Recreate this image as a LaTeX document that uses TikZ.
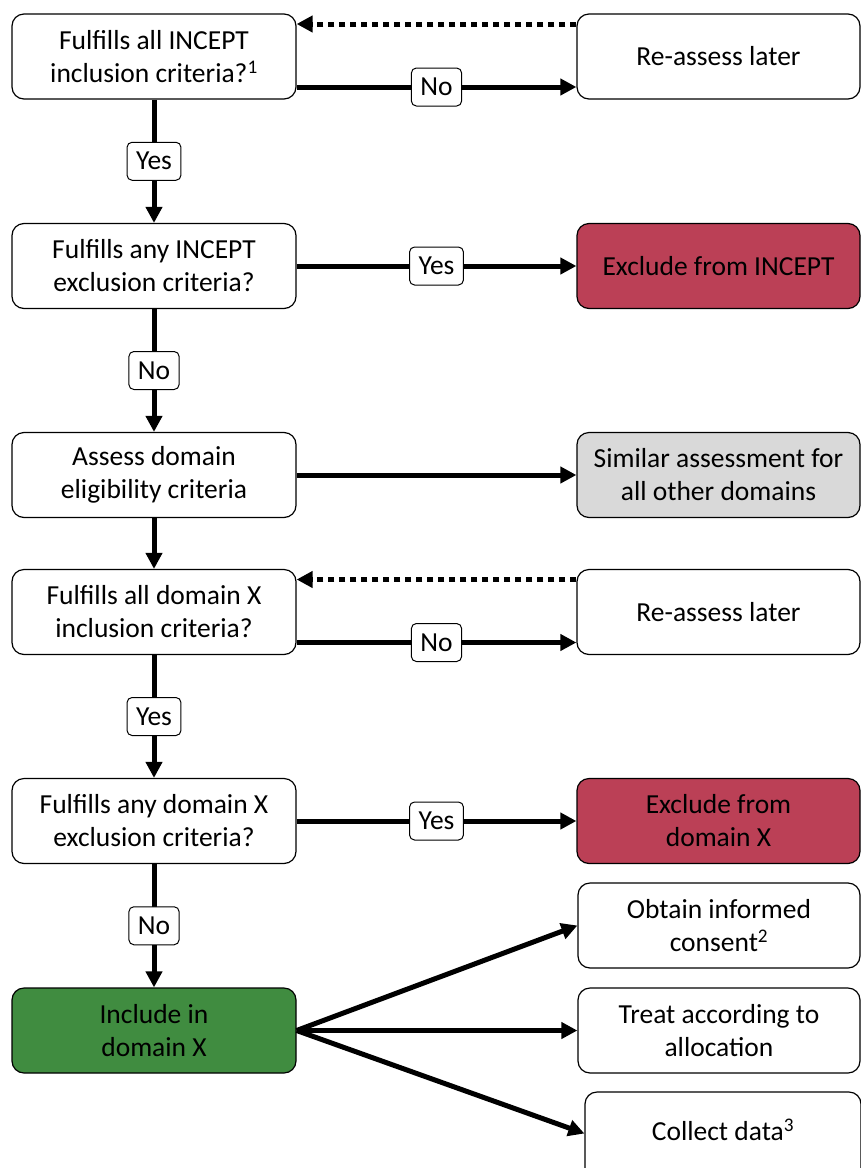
\documentclass[tikz,border=0pt]{standalone}
\usepackage{fontspec}
\setmainfont{Carlito}
\usetikzlibrary{arrows.meta,calc}
\definecolor{exred}{RGB}{187,64,86}
\definecolor{incgreen}{RGB}{64,140,64}
\definecolor{simgray}{RGB}{217,217,217}
\begin{document}
\begin{tikzpicture}[x=1pt,y=-1pt,
  box/.style={draw=black, line width=1.2pt, rounded corners=12pt, fill=white,
    minimum width=284pt, minimum height=85pt, align=center, inner sep=2pt,
    font=\fontsize{27.5}{33}\selectfont},
  lab/.style={draw=black, line width=1pt, rounded corners=5pt, fill=white,
    minimum height=38pt, inner xsep=9pt, inner ysep=2pt, font=\fontsize{27.5}{30}\selectfont},
  arr/.style={line width=5pt, -{Triangle[length=16pt,width=16pt]}},
  darr/.style={line width=5pt, dash pattern=on 6pt off 5pt, -{Triangle[length=16pt,width=16pt]}},
]
\useasboundingbox (0,0) rectangle (861,1168);
% left column
\node[box] (b1) at (154,56.5) {Fulfills all INCEPT\\inclusion criteria?\textsuperscript{1}};
\node[box] (b2) at (154,266) {Fulfills any INCEPT\\exclusion criteria?};
\node[box] (b3) at (154,475) {Assess domain\\eligibility criteria};
\node[box] (b4) at (154,612) {Fulfills all domain X\\inclusion criteria?};
\node[box] (b5) at (154,821) {Fulfills any domain X\\exclusion criteria?};
\node[box, fill=incgreen] (inc) at (154,1030.5) {Include in\\domain X};
% right column
\node[box, minimum width=283pt] (r1) at (718.5,56.5) {Re-assess later};
\node[box, minimum width=283pt, fill=exred] (x1) at (718.5,266) {Exclude from INCEPT};
\node[box, minimum width=283pt, fill=simgray] (s1) at (718.5,475) {Similar assessment for\\all other domains};
\node[box, minimum width=283pt] (r2) at (718.5,612) {Re-assess later};
\node[box, minimum width=283pt, fill=exred] (x2) at (718.5,821) {Exclude from\\domain X};
\node[box, minimum width=282pt] (o1) at (719,925.5) {Obtain informed\\consent\textsuperscript{2}};
\node[box, minimum width=282pt] (t1) at (719,1030.5) {Treat according to\\allocation};
\node[box, minimum width=276pt, minimum height=100pt, text depth=24pt] (c1) at (723,1142) {Collect data\textsuperscript{3}};
% connectors
\draw[arr] ($(b1.east)+(0,30.5)$) -- ($(r1.west)+(0,30.5)$) node[midway, lab] {No};
\draw[darr] ($(r1.west)+(0,-32.5)$) -- ($(b1.east)+(0,-32.5)$);
\draw[arr] (b1.south) -- (b2.north) node[midway, lab] {Yes};
\draw[arr] (b2.east) -- (x1.west) node[midway, lab] {Yes};
\draw[arr] (b2.south) -- (b3.north) node[midway, lab] {No};
\draw[arr] (b3.east) -- (s1.west);
\draw[arr] (b3.south) -- (b4.north);
\draw[arr] ($(b4.east)+(0,30.5)$) -- ($(r2.west)+(0,30.5)$) node[midway, lab] {No};
\draw[darr] ($(r2.west)+(0,-32.5)$) -- ($(b4.east)+(0,-32.5)$);
\draw[arr] (b4.south) -- (b5.north) node[midway, lab] {Yes};
\draw[arr] (b5.east) -- (x2.west) node[midway, lab] {Yes};
\draw[arr] (b5.south) -- (inc.north) node[midway, lab] {No};
\draw[arr] (inc.east) -- (o1.west);
\draw[arr] (inc.east) -- (t1.west);
\draw[arr] (inc.east) -- ($(c1.west)+(0,-8.5)$);
\end{tikzpicture}
\end{document}
